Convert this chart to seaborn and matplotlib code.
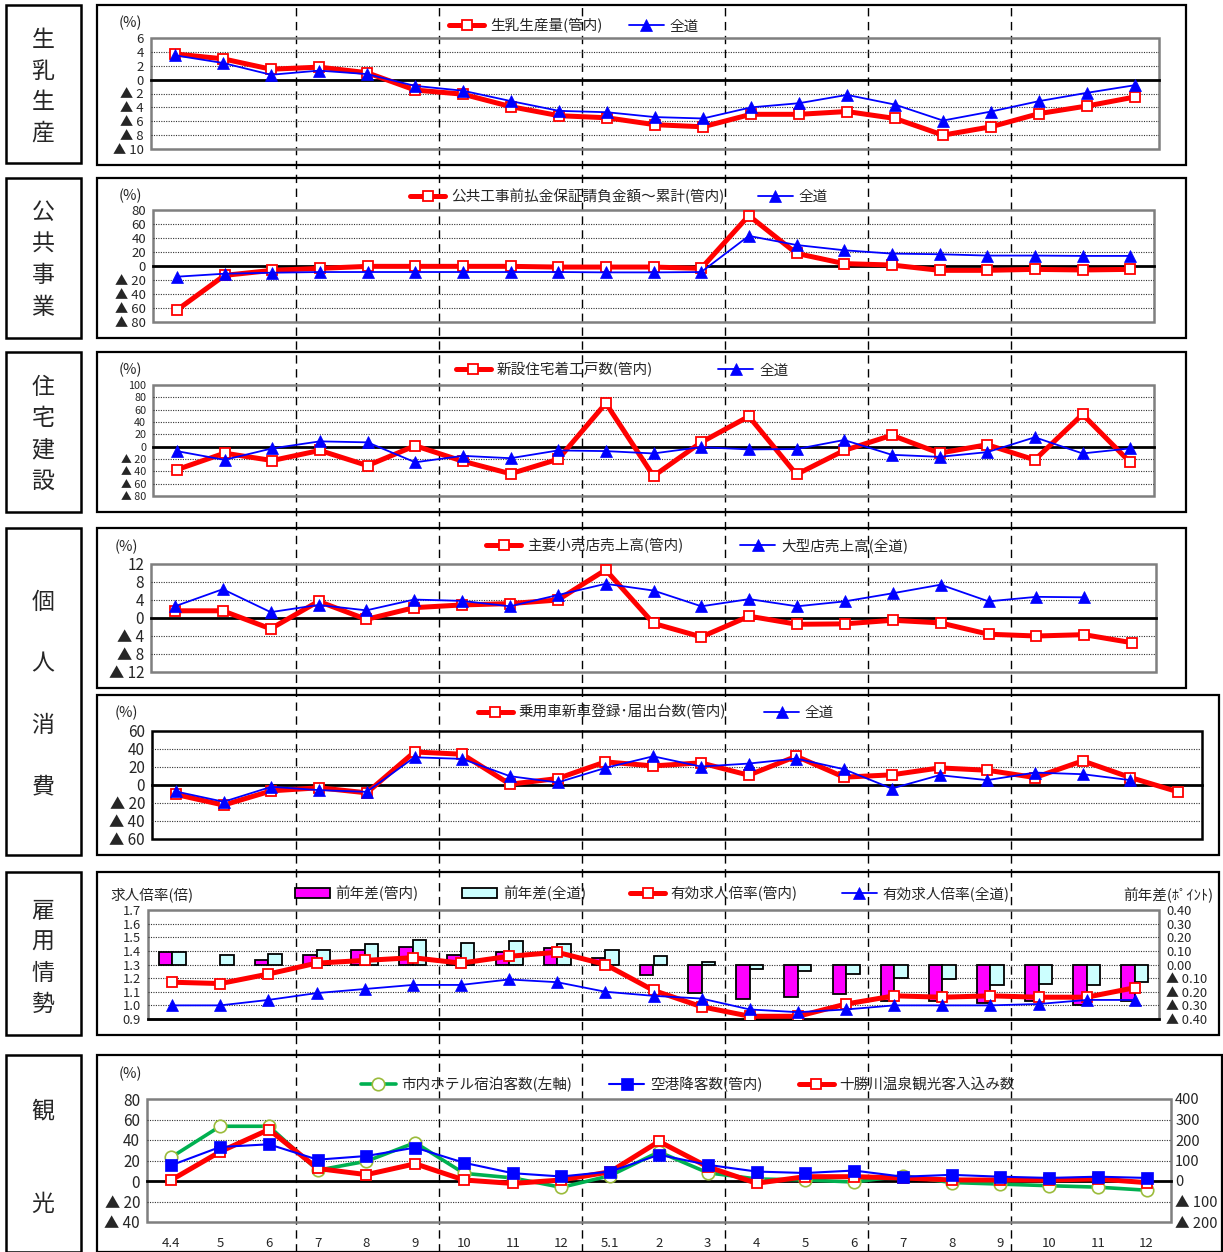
import numpy as np
import pandas as pd
import matplotlib
matplotlib.use('Agg')
import matplotlib.pyplot as plt
import seaborn as sns
from matplotlib.patches import Rectangle, Patch
from matplotlib.lines import Line2D

# ---------------- data ----------------
months = ['4.4', '5', '6', '7', '8', '9', '10', '11', '12', '5.1', '2', '3',
          '4', '5', '6', '7', '8', '9', '10', '11', '12']

milk_local = [3.7, 3.0, 1.5, 1.8, 1.0, -1.5, -2.1, -3.9, -5.2, -5.5, -6.5, -6.8,
              -5.0, -5.0, -4.6, -5.6, -8.0, -6.8, -4.9, -3.8, -2.5]
milk_hokkaido = [3.5, 2.4, 0.7, 1.3, 0.8, -0.9, -1.6, -3.1, -4.5, -4.7, -5.4, -5.6,
                 -4.0, -3.4, -2.2, -3.6, -5.9, -4.6, -3.1, -1.9, -0.8]

public_local = [-63, -13.4, -6.2, -3.4, -0.5, -0.5, -0.5, -0.5, -1.5, -1.5, -1.5, -3.4,
                72, 18, 3.4, 1.4, -6.2, -6.2, -4.8, -5.7, -4.8]
public_hokkaido = [-15.3, -11, -9.6, -8.6, -8.6, -8.6, -8.6, -8.6, -8.6, -9.1, -9.1, -8.6,
                   43, 30, 22.5, 17.7, 16.8, 14.9, 14.9, 14.4, 14.4]

housing_local = [-37.3, -10.5, -22.5, -6.1, -30.7, 1.5, -23.6, -43.9, -20.4, 70.4, -47.7, 7.0,
                 49.1, -45.0, -6.1, 18.5, -10.5, 3.2, -21.4, 52.4, -25.3]
housing_hokkaido = [-7.2, -21.4, -2.8, 8.6, 7.0, -25.3, -14.9, -18.7, -6.1, -7.2, -11.0, -0.7,
                    -4.5, -3.9, 10.8, -13.2, -16.5, -8.9, 15.2, -11.0, -2.8]

retail_local = [1.6, 1.6, -2.4, 3.7, -0.3, 2.3, 2.9, 3.2, 4.0, 10.7, -1.2, -4.2,
                0.4, -1.4, -1.3, -0.5, -1.1, -3.6, -4.0, -3.7, -5.5]
dept_hokkaido = [2.6, 6.4, 1.3, 2.9, 1.7, 4.1, 3.8, 2.6, 5.1, 7.6, 6.1, 2.6,
                 4.2, 2.6, 3.7, 5.5, 7.4, 3.7, 4.7, 4.6, np.nan]

cars_local = [-10.5, -22.3, -6.5, -3.1, -8.7, 36.7, 34.2, 0.9, 7.2, 25.7, 21.2, 24.6,
              10.9, 31.9, 8.7, 11.3, 19.0, 16.4, 8.3, 26.8, 8.3, -7.6]
cars_hokkaido = [-7.2, -18.6, -2.0, -5.7, -7.6, 30.8, 29.0, 9.8, 2.8, 19.0, 31.9, 20.5,
                 23.8, 29.4, 17.5, -3.9, 10.9, 5.4, 13.8, 12.0, 5.4]

jobs_local = [1.17, 1.16, 1.23, 1.31, 1.33, 1.35, 1.31, 1.36, 1.39, 1.30, 1.11, 0.99,
              0.92, 0.92, 1.01, 1.07, 1.06, 1.07, 1.06, 1.06, 1.13]
jobs_hokkaido = [1.00, 1.00, 1.04, 1.09, 1.12, 1.15, 1.15, 1.19, 1.17, 1.10, 1.07, 1.05,
                 0.97, 0.95, 0.97, 1.00, 1.00, 1.00, 1.01, 1.04, 1.04]
jobs_diff_local = [0.09, np.nan, 0.03, 0.07, 0.11, 0.13, 0.07, 0.09, 0.12, 0.05, -0.08, -0.21,
                   -0.25, -0.24, -0.22, -0.27, -0.27, -0.28, -0.27, -0.30, -0.27]
jobs_diff_hokkaido = [0.09, 0.07, 0.08, 0.11, 0.15, 0.18, 0.16, 0.17, 0.15, 0.11, 0.06, 0.02,
                      -0.03, -0.05, -0.07, -0.10, -0.11, -0.15, -0.14, -0.15, -0.13]

hotel_left = [23.3, 53.4, 53.4, 10.5, 19.3, 37.4, 7.5, 3.0, -6.2, 5.2, 28.4, 8.0,
              2.0, 1.0, -1.0, 5.0, -1.5, -3.0, -4.6, -6.0, -9.0]
airport_right = [77, 166, 179, 104, 122, 163, 89, 38, 22, 46, 128, 79,
                 46, 39, 51, 21, 30, 21, 15, 21, 15]
onsen_right = [5, 143, 251, 61, 31, 84, 5, -12, 5, 45, 193, 69,
               -11, 21, 21, 15, 5, 5, 5, 10, -8]

# ---------------- style ----------------
sns.set_style('white')
plt.rcParams['font.family'] = ['Noto Sans CJK JP', 'DejaVu Sans']
plt.rcParams['axes.unicode_minus'] = False

RED, BLUE, GREEN = '#FF0000', '#0000FF', '#00B050'
MAG, CYAN = '#FF00FF', '#CCFFFF'
W, H = 1223, 1252
FS = 10.5

fig = plt.figure(figsize=(W / 100, H / 100), dpi=100)
fig.patch.set_facecolor('white')


def fig_rect(x1, y1, x2, y2, lw=1.6):
    fig.add_artist(Rectangle((x1 / W, 1 - y2 / H), (x2 - x1) / W, (y2 - y1) / H,
                             transform=fig.transFigure, facecolor='white',
                             edgecolor='black', lw=lw, zorder=-3))


def make_ax(x1, y1, x2, y2):
    ax = fig.add_axes([x1 / W, 1 - y2 / H, (x2 - x1) / W, (y2 - y1) / H])
    ax.set_facecolor('none')
    return ax


def tri(v, fmt):
    s = fmt.format(abs(v))
    return ('▲ ' + s) if v < -1e-9 else s


def grid_and_ticks(ax, ymin, ymax, step, fmt, skip=None, tfs=10.5):
    ticks = np.arange(ymin, ymax + step * 0.5, step)
    ax.set_ylim(ymin, ymax)
    ax.set_yticks(ticks)
    ax.set_yticklabels([tri(t, fmt) for t in ticks])
    ax.tick_params(axis='y', length=0, pad=5, labelsize=tfs)
    for t in ticks[1:-1]:
        if skip is None or abs(t - skip) > 1e-9:
            ax.axhline(t, color='#333333', lw=0.8, ls=(0, (1, 1.2)), zorder=1)
    return ticks


def setup(ax, n, ymin, ymax, step, fmt='{:.0f}', zero=0.0, border='#7F7F7F', tfs=10.5):
    ax.set_xlim(-0.5, n - 0.5)
    grid_and_ticks(ax, ymin, ymax, step, fmt, skip=zero, tfs=tfs)
    for s in ['top', 'left', 'right']:
        ax.spines[s].set_visible(False)
    ax.spines['bottom'].set_position(('data', zero))
    ax.spines['bottom'].set_color('black')
    ax.spines['bottom'].set_linewidth(2.0)
    ax.spines['bottom'].set_zorder(2.5)
    ax.set_xticks(np.arange(0.5, n - 1, 1))
    ax.tick_params(axis='x', direction='in', length=4, width=1, color='black',
                   labelbottom=False)
    ax.add_patch(Rectangle((0, 0), 1, 1, transform=ax.transAxes, fill=False,
                           edgecolor=border, lw=1.8, clip_on=False, zorder=0.6))
    ax.set_xlabel('')
    ax.set_ylabel('')


def red_line(ax, y, label):
    sns.lineplot(x=np.arange(len(y)), y=y, ax=ax, color=RED, linewidth=3.6,
                 marker='s', markersize=7.5, markerfacecolor='white',
                 markeredgecolor=RED, markeredgewidth=1.3, label=label,
                 legend=False, zorder=3)
    return ax.lines[-1]


def blue_line(ax, y, label, marker='^', ms=8, lw=1.3):
    sns.lineplot(x=np.arange(len(y)), y=y, ax=ax, color=BLUE, linewidth=lw,
                 marker=marker, markersize=ms, markerfacecolor=BLUE,
                 markeredgecolor=BLUE, markeredgewidth=0.5, label=label,
                 legend=False, zorder=4)
    return ax.lines[-1]


def legend(ax, handles, labels, cx, cy, colsp):
    ax.legend(handles, labels, loc='center', bbox_to_anchor=(cx / W, 1 - cy / H),
              bbox_transform=fig.transFigure, ncol=len(handles), frameon=False,
              handlelength=2.4, handletextpad=0.4, columnspacing=colsp,
              fontsize=FS, borderaxespad=0, borderpad=0)


def pct(x, y, s='(%)'):
    fig.text(x / W, 1 - y / H, s, ha='center', va='center', fontsize=FS)


# ---------------- frames and side labels ----------------
side_boxes = [(5, 163), (178, 338), (352, 512), (528, 855), (872, 1035), (1055, 1252)]
for (y1, y2) in side_boxes:
    fig_rect(6, y1, 81, y2, lw=1.8)
panel_frames = [(97, 5, 1186, 165), (97, 178, 1186, 338), (97, 352, 1186, 512),
                (97, 528, 1186, 688), (97, 695, 1219, 855), (97, 872, 1219, 1035),
                (97, 1055, 1222, 1252)]
for fr in panel_frames:
    fig_rect(*fr)

side_text = [('生乳生産', [40, 71, 102, 133]), ('公共事業', [213, 244, 276, 307]),
             ('住宅建設', [388, 419, 450, 481]), ('個人消費', [602, 664, 726, 787]),
             ('雇用情勢', [911, 942, 973, 1004]), ('観光', [1111, 1204])]
for word, ys in side_text:
    for ch, yy in zip(word, ys):
        fig.text(43 / W, 1 - yy / H, ch, ha='center', va='center', fontsize=16.5)

# ---------------- panel 1: milk ----------------
ax1 = make_ax(151, 38, 1159, 149)
setup(ax1, 21, -10, 6, 2, tfs=9.5)
h1 = red_line(ax1, milk_local, '生乳生産量(管内)')
h2 = blue_line(ax1, milk_hokkaido, '全道')
legend(ax1, [h1, h2], ['生乳生産量(管内)', '全道'], 574, 26, 1.8)
pct(130, 23)

# ---------------- panel 2: public works ----------------
ax2 = make_ax(153, 210, 1154, 322)
setup(ax2, 21, -80, 80, 20, tfs=9.5)
h1 = red_line(ax2, public_local, '公共工事前払金保証請負金額～累計(管内)')
h2 = blue_line(ax2, public_hokkaido, '全道')
legend(ax2, [h1, h2], ['公共工事前払金保証請負金額～累計(管内)', '全道'], 619, 196, 2.3)
pct(130, 196)

# ---------------- panel 3: housing ----------------
ax3 = make_ax(153, 385, 1154, 496)
setup(ax3, 21, -80, 100, 20, tfs=7.8)
h1 = red_line(ax3, housing_local, '新設住宅着工戸数(管内)')
h2 = blue_line(ax3, housing_hokkaido, '全道')
legend(ax3, [h1, h2], ['新設住宅着工戸数(管内)', '全道'], 622, 370, 4.5)
pct(130, 370)

# ---------------- panel 4: retail ----------------
ax4 = make_ax(151, 564, 1156, 672)
setup(ax4, 21, -12, 12, 4, tfs=11)
h1 = red_line(ax4, retail_local, '主要小売店売上高(管内)')
h2 = blue_line(ax4, dept_hokkaido, '大型店売上高(全道)')
legend(ax4, [h1, h2], ['主要小売店売上高(管内)', '大型店売上高(全道)'], 697, 546, 3.9)
pct(126, 547)

# ---------------- panel 5: cars ----------------
ax5 = make_ax(152, 731, 1202, 839)
setup(ax5, 22, -60, 60, 20, border='black', tfs=11)
h1 = red_line(ax5, cars_local, '乗用車新車登録･届出台数(管内)')
h2 = blue_line(ax5, cars_hokkaido, '全道')
legend(ax5, [h1, h2], ['乗用車新車登録･届出台数(管内)', '全道'], 656, 712, 2.6)
pct(126, 713)

# ---------------- panel 6: employment ----------------
ax6 = make_ax(148, 910, 1159, 1019)
bars = pd.DataFrame({
    'idx': np.tile(np.arange(21), 2),
    'value': jobs_diff_local + jobs_diff_hokkaido,
    'series': ['前年差(管内)'] * 21 + ['前年差(全道)'] * 21,
}).dropna()
sns.barplot(data=bars, x='idx', y='value', hue='series',
            hue_order=['前年差(管内)', '前年差(全道)'], palette=[MAG, CYAN],
            saturation=1, edgecolor='black', linewidth=1.3, width=0.56,
            errorbar=None, ax=ax6, legend=False, zorder=2)
ax6.set_xlim(-0.5, 20.5)
grid_and_ticks(ax6, -0.4, 0.4, 0.1, '{:.2f}', tfs=9.3)
for s in ['top', 'left', 'right']:
    ax6.spines[s].set_visible(False)
ax6.spines['bottom'].set_color('black')
ax6.spines['bottom'].set_linewidth(2.0)
ax6.set_xticks(np.arange(0.5, 20, 1))
ax6.tick_params(axis='x', direction='in', length=4, width=1, color='black',
                labelbottom=False)
ax6.add_patch(Rectangle((0, 0), 1, 1, transform=ax6.transAxes, fill=False,
                        edgecolor='#7F7F7F', lw=1.8, clip_on=False, zorder=0.6))
ax6.set_xlabel('')
ax6.set_ylabel('')
ax6l = ax6.twinx()
ax6.yaxis.tick_right()
ax6.tick_params(axis='y', length=0, pad=5, labelsize=9.3)
ax6l.yaxis.tick_left()
for s in ax6l.spines.values():
    s.set_visible(False)
ax6l.set_ylim(0.9, 1.7)
t6 = np.arange(0.9, 1.75, 0.1)
ax6l.set_yticks(t6)
ax6l.set_yticklabels(['{:.1f}'.format(t) for t in t6])
ax6l.tick_params(axis='y', length=0, pad=5, labelsize=9.3)
h3 = red_line(ax6l, jobs_local, '有効求人倍率(管内)')
h4 = blue_line(ax6l, jobs_hokkaido, '有効求人倍率(全道)')
ax6l.set_xlim(-0.5, 20.5)
ax6l.set_ylabel('')
p1 = Patch(facecolor=MAG, edgecolor='black', lw=1.3)
p2 = Patch(facecolor=CYAN, edgecolor='black', lw=1.3)
legend(ax6l, [p1, p2, h3, h4],
       ['前年差(管内)', '前年差(全道)', '有効求人倍率(管内)', '有効求人倍率(全道)'],
       652, 893, 3.0)
fig.text(110 / W, 1 - 895 / H, '求人倍率(倍)', ha='left', va='center', fontsize=FS)
fig.text(1213 / W, 1 - 895 / H, '前年差(ﾎﾟｲﾝﾄ)', ha='right', va='center', fontsize=FS)

# ---------------- panel 7: tourism ----------------
ax7 = make_ax(147, 1099, 1171, 1222)
setup(ax7, 21, -40, 80, 20, tfs=11)
sns.lineplot(x=np.arange(21), y=hotel_left, ax=ax7, color=GREEN, linewidth=2.6,
             marker='o', markersize=9, markerfacecolor='white',
             markeredgecolor='#9BBB3B', markeredgewidth=1.2, legend=False, zorder=3)
g1 = ax7.lines[-1]
ax7r = ax7.twinx()
for s in ax7r.spines.values():
    s.set_visible(False)
ax7r.set_ylim(-200, 400)
t7 = np.arange(-200, 401, 100)
ax7r.set_yticks(t7)
ax7r.set_yticklabels([tri(t, '{:.0f}') for t in t7])
ax7r.tick_params(axis='y', length=0, pad=3, labelsize=10.5)
g2 = blue_line(ax7r, airport_right, '空港降客数(管内)', marker='s', ms=8, lw=1.5)
g3 = red_line(ax7r, onsen_right, '十勝川温泉観光客入込み数')
ax7r.set_xlim(-0.5, 20.5)
ax7r.set_ylabel('')
sec = ax7.secondary_xaxis('bottom')
sec.set_xticks(np.arange(21))
sec.set_xticklabels(months)
sec.tick_params(axis='x', length=0, pad=11, labelsize=9.5)
sec.spines['bottom'].set_visible(False)
legend(ax7r, [g1, g2, g3], ['市内ホテル宿泊客数(左軸)', '空港降客数(管内)', '十勝川温泉観光客入込み数'],
       688, 1084, 2.5)
pct(130, 1074)

# ---------------- quarter dashed separators ----------------
trans = ax2.transData + fig.transFigure.inverted()
for b in np.arange(2.5, 20, 3):
    xf = trans.transform((b, 0))[0]
    fig.add_artist(Line2D([xf, xf], [0, 1 - 5 / H], transform=fig.transFigure,
                          color='black', lw=1.0, ls=(0, (6, 4)), zorder=-1))

fig.savefig('out.png', dpi=100, facecolor='white')
